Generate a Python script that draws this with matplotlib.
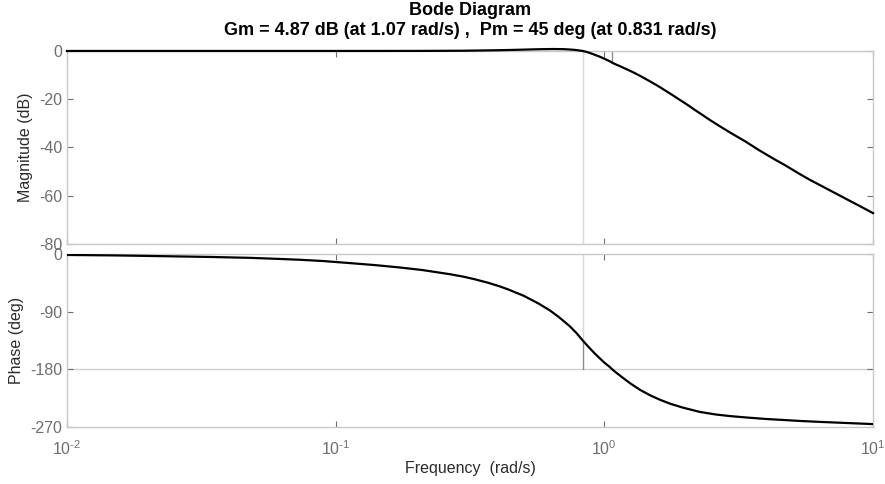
import numpy as np
import matplotlib
matplotlib.use("Agg")
from matplotlib import pyplot as plt
from matplotlib.ticker import FixedLocator, NullLocator, FixedFormatter

plt.rcParams['font.family'] = ['Liberation Sans', 'DejaVu Sans']
plt.rcParams['mathtext.default'] = 'regular'
plt.rcParams['axes.unicode_minus'] = False

# Values
mag_freq = [0.01, 0.05, 0.1, 0.2, 0.3, 0.4, 0.45, 0.5, 0.55, 0.6, 0.65, 0.7,
            0.74, 0.78, 0.81, 0.831, 0.86, 0.884, 0.92, 0.963, 1.0, 1.049, 1.07,
            1.1, 1.143, 1.19, 1.245, 1.3, 1.358, 1.42, 1.479, 1.55, 1.611, 1.68,
            1.754, 1.83, 1.911, 2.0, 2.083, 2.17, 2.268, 2.471, 2.7, 3.0, 3.35,
            3.79, 4.3, 4.7, 5.3, 5.82, 6.5, 7.2, 8.0, 8.94, 10.0]
mag_db = [0.0, 0.0, 0.0, 0.02, 0.1, 0.3, 0.42, 0.55, 0.68, 0.76, 0.8, 0.76,
          0.62, 0.42, 0.18, 0.0, -0.4, -0.85, -1.55, -2.4, -3.2, -4.3, -4.87,
          -5.5, -6.3, -7.2, -8.2, -9.2, -10.3, -11.5, -12.6, -13.9, -15.0, -16.3,
          -17.6, -18.9, -20.3, -21.7, -23.0, -24.4, -25.8, -28.6, -31.3, -34.4, -37.5,
          -41.3, -44.9, -47.3, -50.8, -53.4, -56.2, -58.8, -61.5, -64.3, -67.2]

phase_freq = [0.01, 0.015, 0.02, 0.0341, 0.048, 0.06, 0.0736, 0.09, 0.113, 0.14,
              0.173, 0.21, 0.266, 0.3, 0.33, 0.37, 0.408, 0.44, 0.466, 0.5,
              0.53, 0.57, 0.627, 0.68, 0.745, 0.79, 0.831, 0.88, 0.92, 0.963,
              1.0, 1.049, 1.07, 1.11, 1.17, 1.25, 1.358, 1.48, 1.611, 1.754,
              1.95, 2.268, 2.6, 2.94, 3.45, 4.0, 4.7, 5.3, 6.3, 7.2, 8.2, 10.0]
phase_deg = [-1.5, -2.2, -3.0, -4.6, -6.0, -7.5, -9.0, -11.0, -14.2, -17.3,
             -21.0, -25.0, -31.5, -35.5, -39.5, -45.0, -50.5, -55.5, -59.8, -65.0,
             -70.5, -77.5, -88.0, -99.0, -113.0, -124.0, -135.0, -146.5, -155.0, -163.0,
             -169.5, -176.5, -180.0, -185.5, -193.0, -202.0, -212.0, -220.5, -227.5, -233.5,
             -239.5, -246.5, -250.5, -253.0, -255.5, -257.5, -259.2, -260.5, -262.0, -263.0, -264.0, -265.5]

# Margins
gm_db, wcg = 4.87, 1.07
pm_deg, wcp = 45, 0.831

mag_ticks = [0, -20, -40, -60, -80]
phase_ticks = [0, -90, -180, -270]
freq_ticks = [1e-2, 1e-1, 1e0, 1e1]
freq_labels = ['$10^{\u2010\u20092}$'.replace('\u2009', ''), '$10^{\u2010' + '1}$', '$10^{0}$', '$10^{1}$']

spine_col = '#c8c8c8'
tick_col = '#6e6e6e'
label_col = '#2b2b2b'
fs = 11.5

fig = plt.figure(figsize=(8.85, 4.84), dpi=100)
ax1 = fig.add_axes([0.0757, 0.4959, 0.9107, 0.3988])
ax2 = fig.add_axes([0.0757, 0.1178, 0.9107, 0.3574])

# Magnitude
ax1.axvline(wcp, color='#d9d9d9', lw=1.0, zorder=1)
ax1.plot([wcg, wcg], [0, -gm_db], color='#8c8c8c', lw=1.0, zorder=2)
ax1.plot(mag_freq, mag_db, color='black', lw=1.6, clip_on=False, zorder=3)
ax1.set_ylim(-80, 0)
ax1.set_yticks(mag_ticks)
ax1.set_ylabel('Magnitude (dB)', color=label_col, fontsize=fs)

# Phase
ax2.axhline(-180, color='#d0d0d0', lw=1.0, zorder=1)
ax2.plot([wcp, wcp], [0, -180 + pm_deg], color='#d9d9d9', lw=1.0, zorder=1)
ax2.plot([wcp, wcp], [-180 + pm_deg, -180], color='#8c8c8c', lw=1.0, zorder=2)
ax2.plot(phase_freq, phase_deg, color='black', lw=1.6, zorder=3)
ax2.set_ylim(-270, 0)
ax2.set_yticks(phase_ticks)
ax2.set_ylabel('Phase (deg)', color=label_col, fontsize=fs)
ax2.set_xlabel('Frequency  (rad/s)', color=label_col, fontsize=fs, labelpad=2)

for ax in (ax1, ax2):
    ax.set_xscale('log')
    ax.set_xlim(1e-2, 1e1)
    ax.xaxis.set_major_locator(FixedLocator(freq_ticks))
    ax.xaxis.set_minor_locator(NullLocator())
    ax.tick_params(direction='in', colors=tick_col, labelsize=fs, length=4,
                   top=True, right=True)
    for s in ax.spines.values():
        s.set_color(spine_col)
        s.set_linewidth(1.0)

ax1.xaxis.set_ticklabels([])
ax2.xaxis.set_major_formatter(FixedFormatter(freq_labels))
ax2.tick_params(axis='x', pad=9)

fig.text(0.531, 0.979, 'Bode Diagram', ha='center', va='center',
         fontsize=13, fontweight='bold')
fig.text(0.531, 0.938, 'Gm = 4.87 dB (at 1.07 rad/s) ,  Pm = 45 deg (at 0.831 rad/s)',
         ha='center', va='center', fontsize=13, fontweight='bold')

fig.savefig('out.png', dpi=100, facecolor='white')
